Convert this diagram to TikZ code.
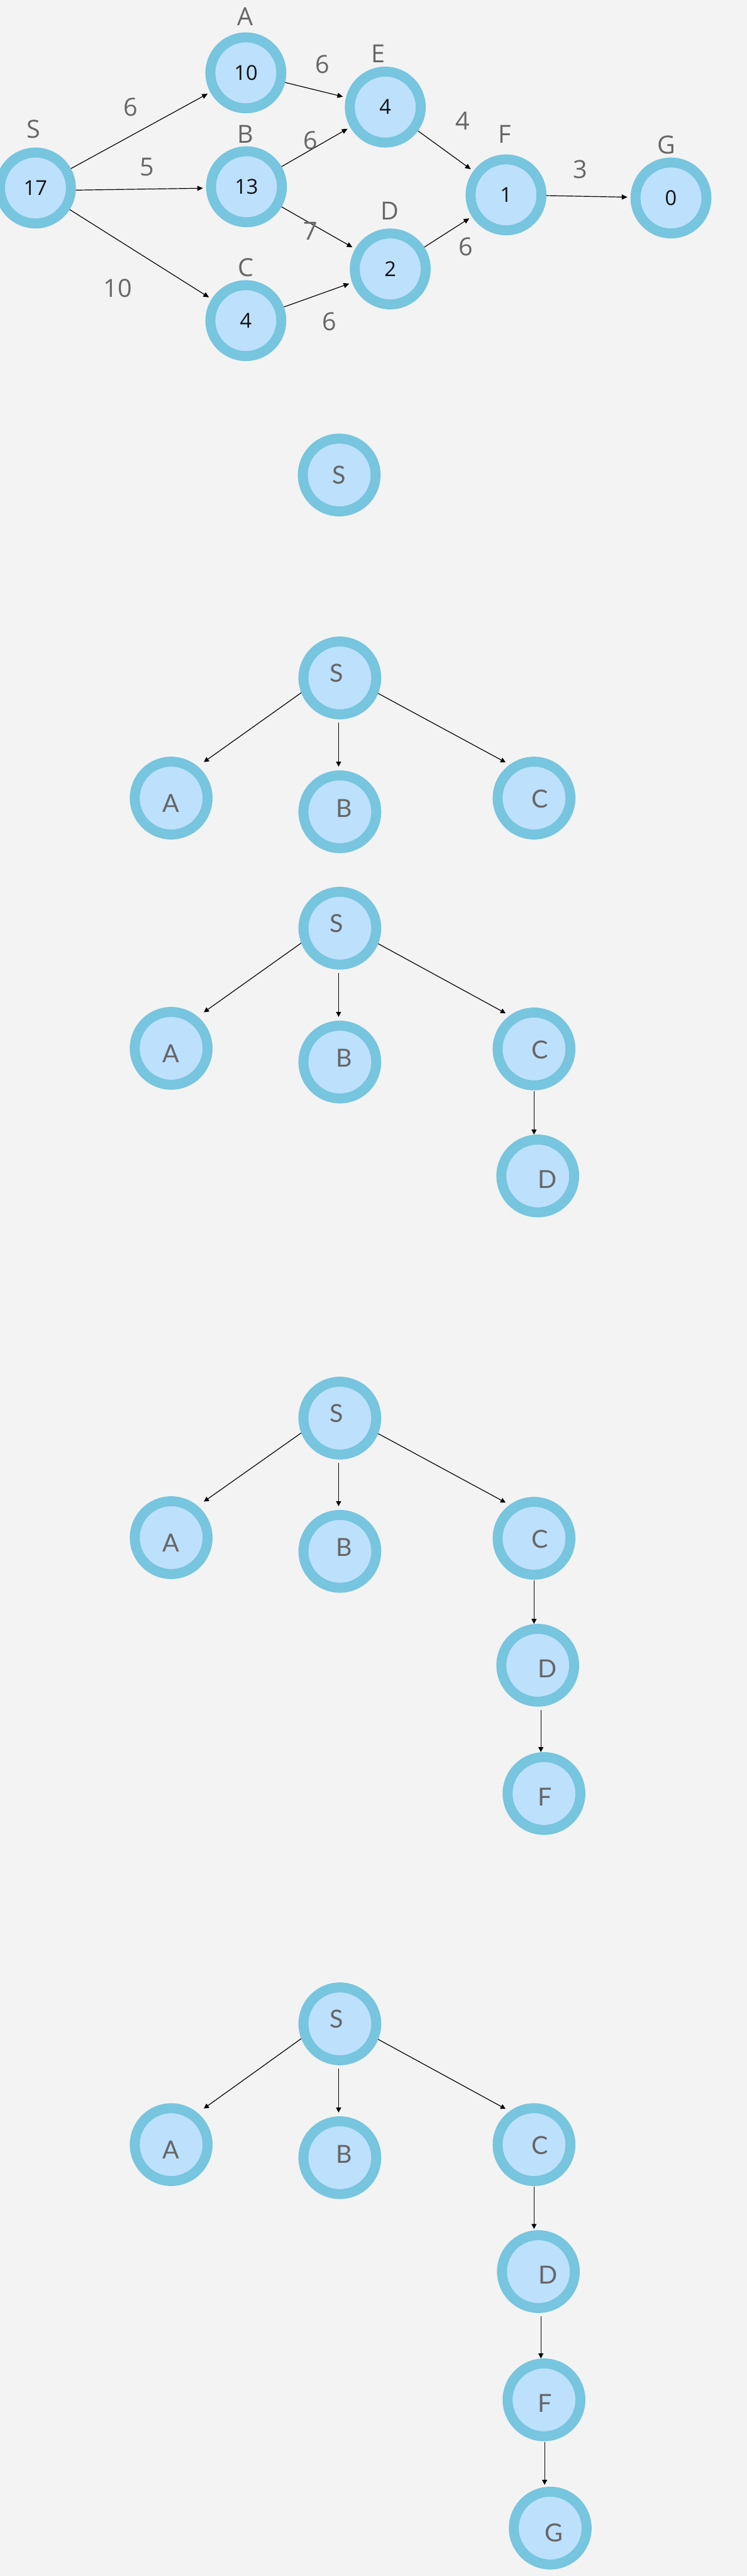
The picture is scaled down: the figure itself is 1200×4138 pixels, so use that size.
\documentclass[tikz,border=0pt]{standalone}
\usepackage{fontspec}
\setmainfont{Open Sans}
\newfontfamily\latofont{Lato}
\usetikzlibrary{arrows.meta,calc}
\definecolor{bgc}{HTML}{F3F3F3}
\definecolor{ringc}{HTML}{77C5DE}
\definecolor{fillc}{HTML}{BDE0FD}
\definecolor{labc}{HTML}{666666}
\definecolor{numc}{HTML}{111111}
\begin{document}
\begin{tikzpicture}[x=1pt,y=-1pt,
  gnode/.style={circle,draw=ringc,fill=fillc,line width=16pt,minimum size=114pt,inner sep=0pt,text=numc,font=\fontsize{33}{33}\selectfont},
  tnode/.style={circle,draw=ringc,fill=fillc,line width=16pt,minimum size=117pt,inner sep=0pt},
  glab/.style={inner sep=0pt,text=labc,font=\fontsize{40}{40}\selectfont},
  tlab/.style={inner sep=0pt,text=labc,font=\latofont\fontsize{40}{40}\selectfont},
  garr/.style={-{Triangle[length=9pt,width=8pt]},line width=1.2pt,shorten >=5pt},
  tarr/.style={-{Triangle[length=8pt,width=8pt]},line width=1.2pt},
  tS/.style={label={[tlab,xshift=-5pt,yshift=7.6pt]center:S}},
  tA/.style={label={[tlab,yshift=-8.7pt]center:A}},
  tB/.style={label={[tlab,xshift=6.6pt,yshift=6pt]center:B}},
  tC/.style={label={[tlab,xshift=9.2pt,yshift=-1.3pt]center:C}},
  tD/.style={label={[tlab,xshift=15.3pt,yshift=-5.4pt]center:D}},
  tF/.style={label={[tlab,xshift=1.5pt,yshift=-5.9pt]center:F}},
  tG/.style={label={[tlab,xshift=5.7pt,yshift=-7.3pt]center:G}},
]
\useasboundingbox (0,0) rectangle (1200,4138);
\fill[bgc] (0,0) rectangle (1200,4138);
\clip (0,0) rectangle (1200,4138);

% ---------- top graph ----------
\node[gnode] (gS) at (57,302) {17};
\node[gnode] (gA) at (395,117) {10};
\node[gnode] (gB) at (396,300) {13};
\node[gnode] (gC) at (395,515) {4};
\node[gnode] (gE) at (619,172) {4};
\node[gnode] (gD) at (627,432) {2};
\node[gnode] (gF) at (813,313) {1};
\node[gnode] (gG) at (1078,318) {0};

\node[glab] (lS) at (54,207) {S};
\node[glab] (lA) at (394,27) {A};
\node[glab] (lB) at (394,216) {B};
\node[glab] (lC) at (395,430) {C};
\node[glab] (lE) at (608,86) {E};
\node[glab] (lD) at (626,339) {D};
\node[glab] (lF) at (811,216) {F};
\node[glab] (lG) at (1071,233) {G};

\draw[garr] (gS) -- (gA);
\draw[garr] (gS.-3) -- (gB.182);
\draw[garr] (gS) -- (gC);
\draw[garr] (gA) -- (gE);
\draw[garr] (gB) -- (gE);
\draw[garr] (gB) -- (gD);
\draw[garr] (gC) -- (gD);
\draw[garr] (gE) -- (gF);
\draw[garr] (gD) -- (gF);
\draw[garr] (gF) -- (gG);

\node[glab] (wSA) at (210,172) {6};
\node[glab] (wSB) at (236,268) {5};
\node[glab] (wSC) at (189,463) {10};
\node[glab] (wAE) at (518,103) {6};
\node[glab] (wBE) at (499,226) {6};
\node[glab] (wBD) at (499,371) {7};
\node[glab] (wCD) at (529,517) {6};
\node[glab] (wEF) at (743,194) {4};
\node[glab] (wDF) at (748,396) {6};
\node[glab] (wFG) at (932,272) {3};

% ---------- tree 1 ----------
\node[tnode,label={[tlab]center:S}] (aS) at (545,763) {};

% ---------- tree 2 ----------
\node[tnode,tS] (bS) at (546,1089) {};
\node[tnode,tA] (bA) at (275,1282) {};
\node[tnode,tB] (bB) at (546,1304) {};
\node[tnode,tC] (bC) at (858,1282) {};
\draw[tarr,shorten >=12pt] (bS.201) -- (bA.50);
\draw[tarr,shorten <=5pt,shorten >=6pt] ([xshift=-2pt]bS.south) -- ([xshift=-2pt]bS.south |- bB.north);
\draw[tarr,shorten >=7.5pt] (bS.-22) -- (bC.126);

% ---------- tree 3 ----------
\node[tnode,tS] (cS) at (546,1491) {};
\node[tnode,tA] (cA) at (275,1684) {};
\node[tnode,tB] (cB) at (546,1706) {};
\node[tnode,tC] (cC) at (858,1685) {};
\node[tnode,tD] (cD) at (864,1889) {};
\draw[tarr,shorten >=12pt] (cS.201) -- (cA.50);
\draw[tarr,shorten <=5pt,shorten >=6pt] ([xshift=-2pt]cS.south) -- ([xshift=-2pt]cS.south |- cB.north);
\draw[tarr,shorten >=7.5pt] (cS.-22) -- (cC.126);
\draw[tarr,shorten <=1pt] (cC.south) -- (cC.south |- cD.north);

% ---------- tree 4 ----------
\node[tnode,tS] (dS) at (546,2278) {};
\node[tnode,tA] (dA) at (275,2470) {};
\node[tnode,tB] (dB) at (546,2492) {};
\node[tnode,tC] (dC) at (858,2471) {};
\node[tnode,tD] (dD) at (864,2675) {};
\node[tnode,tF] (dF) at (874,2881) {};
\draw[tarr,shorten >=12pt] (dS.201) -- (dA.50);
\draw[tarr,shorten <=5pt,shorten >=6pt] ([xshift=-2pt]dS.south) -- ([xshift=-2pt]dS.south |- dB.north);
\draw[tarr,shorten >=7.5pt] (dS.-22) -- (dC.126);
\draw[tarr,shorten <=1pt] (dC.south) -- (dC.south |- dD.north);
\draw[tarr,shorten <=5pt] let \p1=(dD.south), \p2=(dF.north) in (\x1+5pt,\y1) -- (\x1+5pt,\y2);

% ---------- tree 5 ----------
\node[tnode,tS] (eS) at (546,3251) {};
\node[tnode,tA] (eA) at (275,3445) {};
\node[tnode,tB] (eB) at (546,3466) {};
\node[tnode,tC] (eC) at (858,3445) {};
\node[tnode,tD] (eD) at (865,3649) {};
\node[tnode,tF] (eF) at (874,3855) {};
\node[tnode,tG] (eG) at (884,4061) {};
\draw[tarr,shorten >=12pt] (eS.201) -- (eA.50);
\draw[tarr,shorten <=5pt,shorten >=6pt] ([xshift=-2pt]eS.south) -- ([xshift=-2pt]eS.south |- eB.north);
\draw[tarr,shorten >=7.5pt] (eS.-22) -- (eC.126);
\draw[tarr,shorten <=1pt,shorten >=2pt] (eC.south) -- (eC.south |- eD.north);
\draw[tarr,shorten <=5pt] let \p1=(eD.south), \p2=(eF.north) in (\x1+4pt,\y1) -- (\x1+4pt,\y2);
\draw[tarr,shorten <=1pt,shorten >=3pt] ([xshift=1pt]eF.south) -- ([xshift=1pt]eF.south |- eG.north);
\end{tikzpicture}
\end{document}
